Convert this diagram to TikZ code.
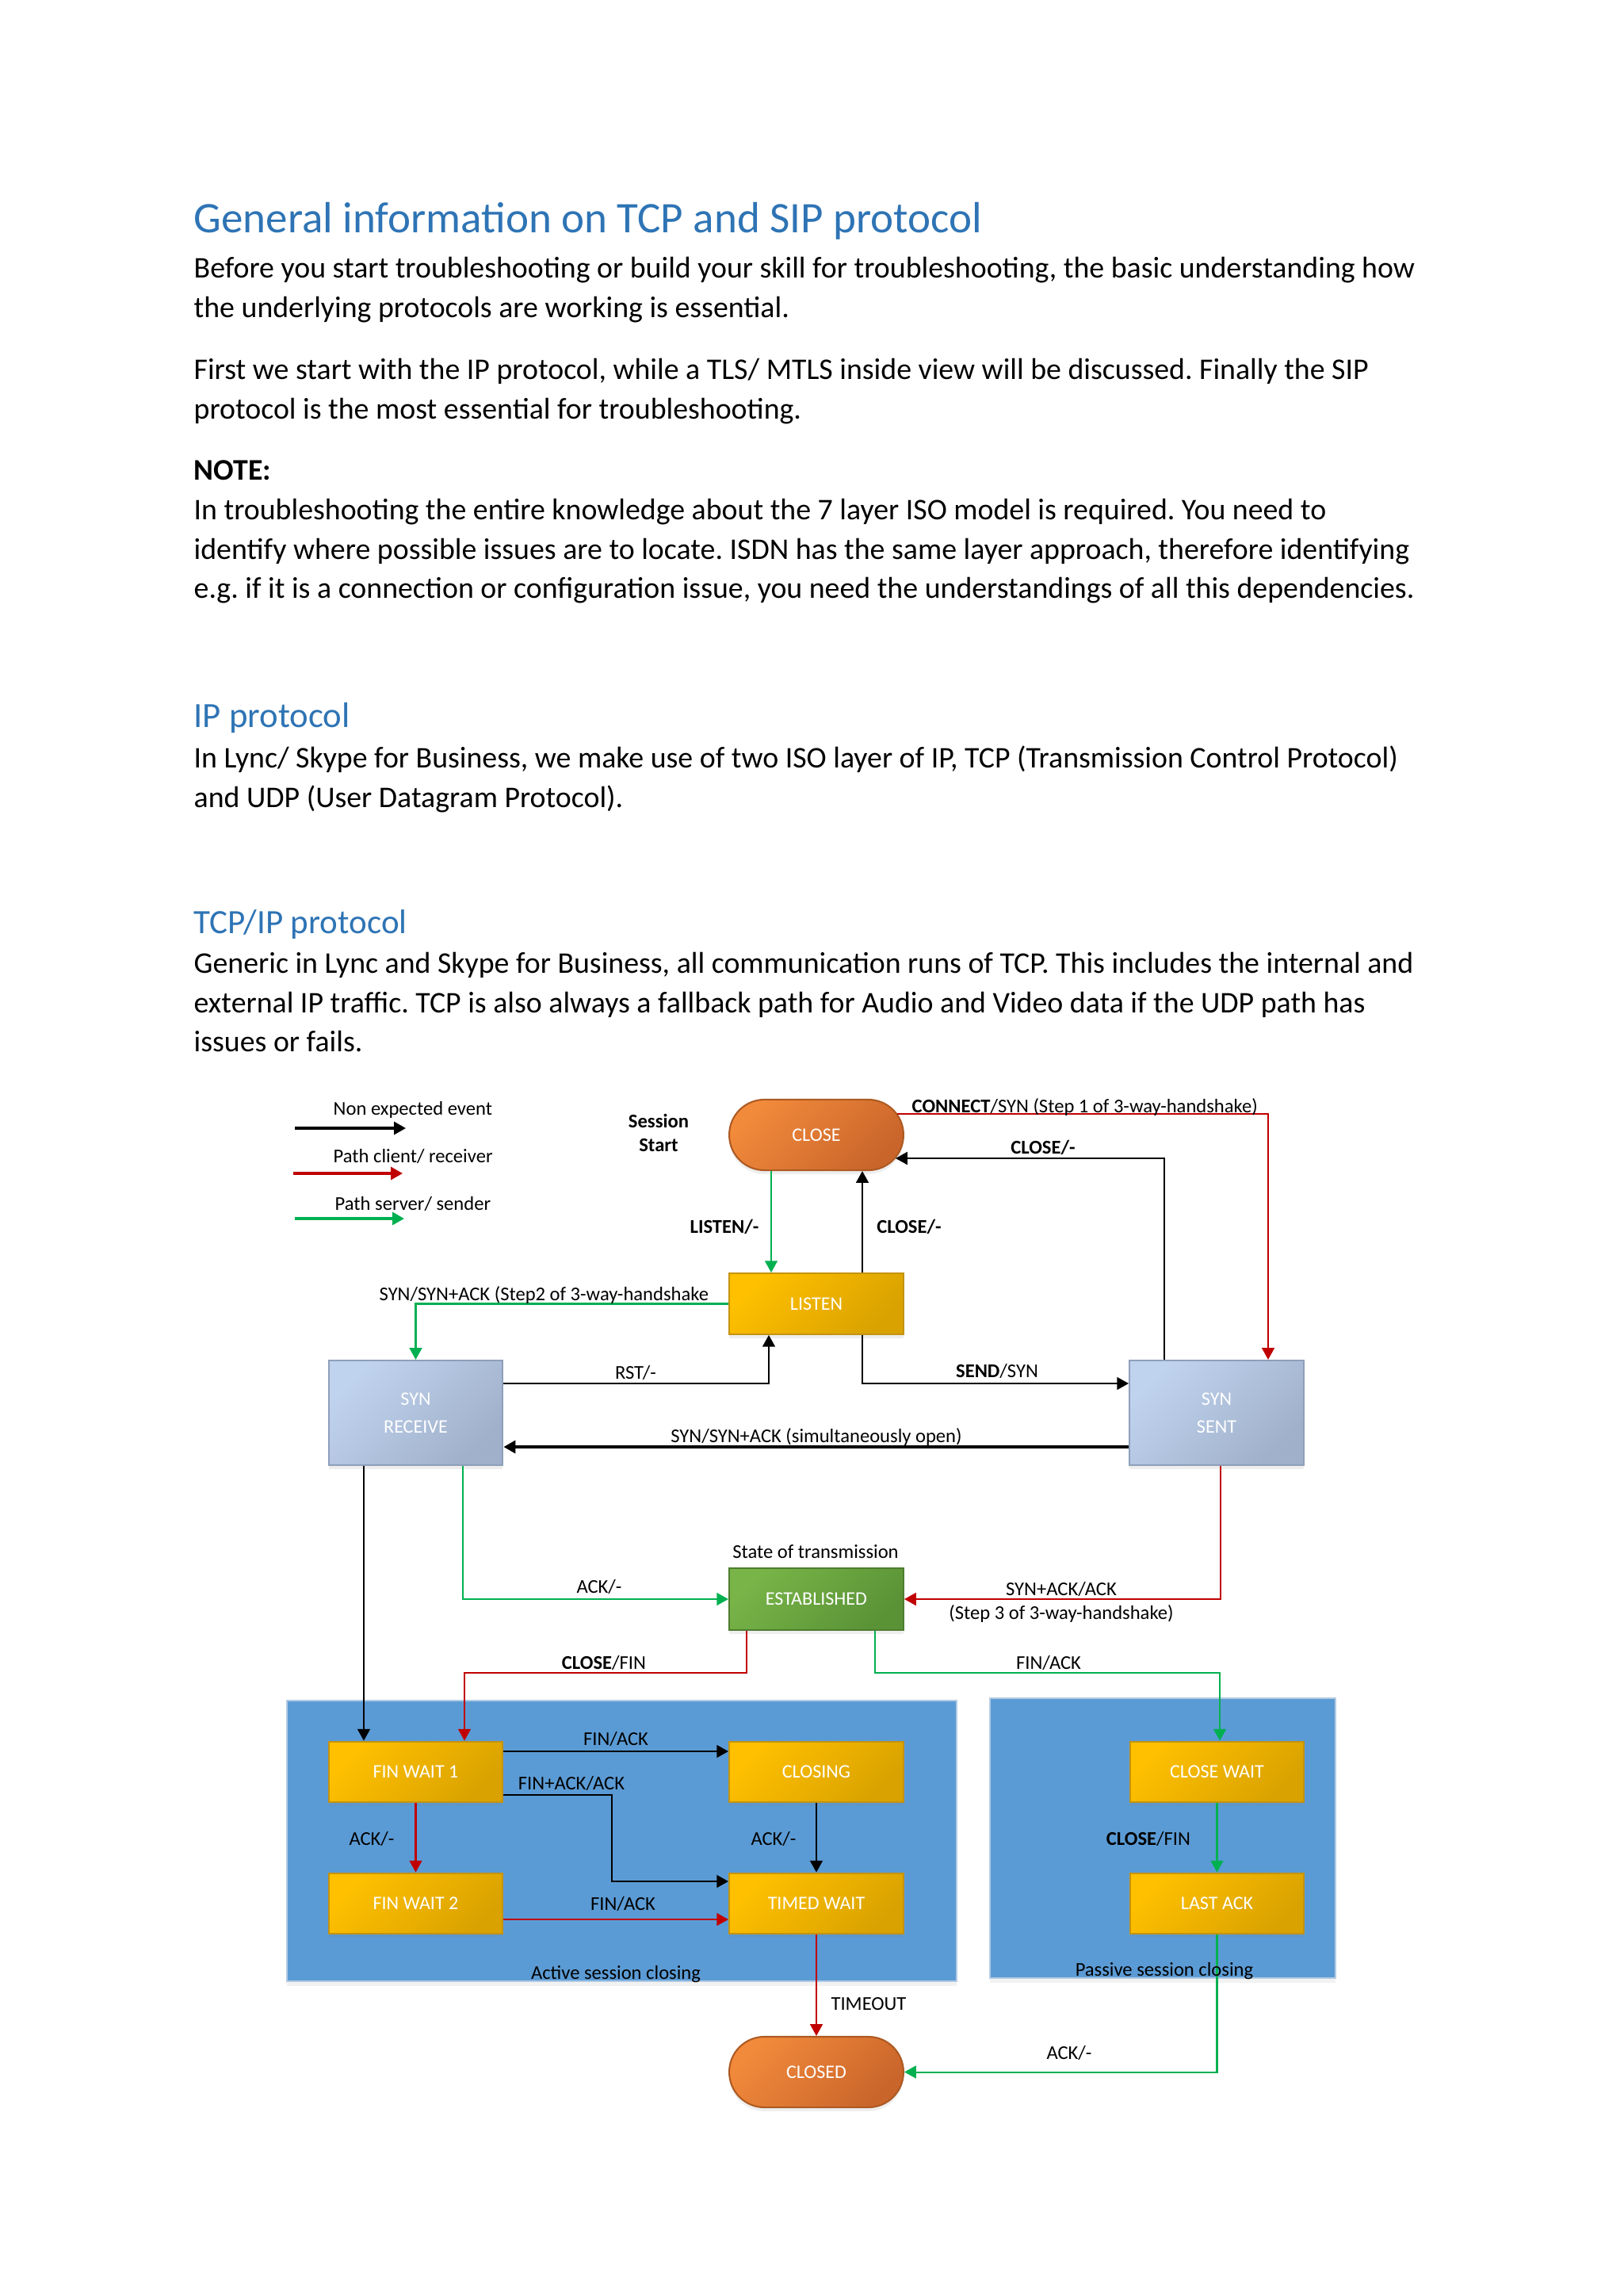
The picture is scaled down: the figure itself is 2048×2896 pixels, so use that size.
\documentclass[tikz,border=0pt]{standalone}
\usepackage{fontspec}
\setmainfont{Carlito}
\usetikzlibrary{arrows.meta,shadows,calc}
\frenchspacing
\definecolor{hblue}{HTML}{2E74B5}
\definecolor{yelA}{HTML}{FFC000}
\definecolor{yelB}{HTML}{D9A200}
\definecolor{yelD}{HTML}{C49310}
\definecolor{orgA}{HTML}{F28A3B}
\definecolor{orgB}{HTML}{C9652B}
\definecolor{orgD}{HTML}{AD5A22}
\definecolor{bluA}{HTML}{C0D3EE}
\definecolor{bluB}{HTML}{A0B0CA}
\definecolor{bluD}{HTML}{8E9FBA}
\definecolor{grnA}{HTML}{78B448}
\definecolor{grnB}{HTML}{5A9336}
\definecolor{grnD}{HTML}{4E7D2F}
\definecolor{contF}{HTML}{5B9BD5}
\definecolor{contD}{HTML}{B3CBE3}
\definecolor{lred}{HTML}{C00000}
\definecolor{lgrn}{HTML}{00B050}
\begin{document}
\begin{tikzpicture}[x=0.29067pt,y=-0.29067pt,
  tx/.style={inner sep=0pt, anchor=base west, font=\fontsize{11}{13}\selectfont},
  hd/.style={inner sep=0pt, anchor=base west, text=hblue},
  lbl/.style={inner sep=0pt, anchor=base, font=\fontsize{7.15}{8}\selectfont},
  lblw/.style={inner sep=0pt, anchor=base west, font=\fontsize{7.15}{8}\selectfont},
  state/.style={minimum width=63.9pt, inner sep=0pt, text=white, align=center,
    font=\fontsize{7}{8.7}\selectfont, line width=0.6pt,
    drop shadow={opacity=0.13, shadow xshift=0pt, shadow yshift=-1.4pt}},
  ybox/.style={state, minimum height=22.3pt, draw=yelD, top color=yelA, bottom color=yelB, shading angle=45},
  obox/.style={state, minimum height=25.9pt, rounded corners=12.9pt, draw=orgD, top color=orgA, bottom color=orgB, shading angle=45},
  bbox/.style={state, minimum height=38.4pt, draw=bluD, top color=bluA, bottom color=bluB, shading angle=45},
  gbox/.style={state, minimum height=22.7pt, draw=grnD, top color=grnA, bottom color=grnB, shading angle=45},
  cont/.style={fill=contF, draw=contD, line width=0.6pt,
    drop shadow={opacity=0.10, shadow xshift=0pt, shadow yshift=-1.6pt}},
  tip/.style={-{Triangle[length=4.3pt,width=4.6pt]}},
  bl/.style={tip, draw=black, line width=0.65pt},
  rl/.style={tip, draw=lred, line width=0.6pt, -{Triangle[length=4.3pt,width=4.6pt,fill=lred]}},
  gl/.style={tip, draw=lgrn, line width=0.6pt, -{Triangle[length=4.3pt,width=4.6pt,fill=lgrn]}},
]
\path[use as bounding box, fill=white] (0,0) rectangle (2048,2896);

% ---------------- text ----------------
\node[hd, font=\fontsize{16}{19}\selectfont] (title) at (244,293) {General information on TCP and SIP protocol};
\node[tx] (p1a) at (244,350) {Before you start troubleshooting or build your skill for troubleshooting, the basic understanding how};
\node[tx] (p1b) at (244,400) {the underlying protocols are working is essential.};
\node[tx] (p2a) at (244,478) {First we start with the IP protocol, while a TLS/ MTLS inside view will be discussed. Finally the SIP};
\node[tx] (p2b) at (244,528) {protocol is the most essential for troubleshooting.};
\node[tx, font=\fontsize{11}{13}\selectfont\bfseries] (note) at (244,605) {NOTE:};
\node[tx] (p3a) at (244,655) {In troubleshooting the entire knowledge about the 7 layer ISO model is required. You need to};
\node[tx] (p3b) at (244,705) {identify where possible issues are to locate. ISDN has the same layer approach, therefore identifying};
\node[tx] (p3c) at (244,754) {e.g. if it is a connection or configuration issue, you need the understandings of all this dependencies.};
\node[hd, font=\fontsize{13}{16}\selectfont] (h2a) at (244,917) {IP protocol};
\node[tx] (p4a) at (244,968) {In Lync/ Skype for Business, we make use of two ISO layer of IP, TCP (Transmission Control Protocol)};
\node[tx] (p4b) at (244,1018) {and UDP (User Datagram Protocol).};
\node[hd, font=\fontsize{12.5}{16}\selectfont] (h2b) at (244,1177) {TCP/IP protocol};
\node[tx] (p5a) at (244,1227) {Generic in Lync and Skype for Business, all communication runs of TCP. This includes the internal and};
\node[tx] (p5b) at (244,1277) {external IP traffic. TCP is also always a fallback path for Audio and Video data if the UDP path has};
\node[tx] (p5c) at (244,1326) {issues or fails.};

% ---------------- containers ----------------
\path[cont] (362,2145) rectangle (1207,2499);
\path[cont] (1249,2142) rectangle (1685,2495);

% ---------------- states ----------------
\node[obox] (close) at (1030,1431.5) {CLOSE};
\node[ybox] (listen) at (1030,1644.5) {LISTEN};
\node[bbox] (synr) at (524.5,1782) {SYN\\[1.6pt]RECEIVE};
\node[bbox] (synsent) at (1535,1782) {SYN\\[1.6pt]SENT};
\node[gbox] (est) at (1030,2017) {ESTABLISHED};
\node[ybox] (fw1) at (524.5,2235) {FIN WAIT 1};
\node[ybox] (closing) at (1030,2235) {CLOSING};
\node[ybox] (fw2) at (524.5,2401) {FIN WAIT 2};
\node[ybox] (tw) at (1030,2401) {TIMED WAIT};
\node[ybox] (cw) at (1535.5,2235) {CLOSE WAIT};
\node[ybox] (la) at (1535.5,2401) {LAST ACK};
\node[obox] (closed) at (1030,2613.5) {CLOSED};

% ---------------- helper coordinates ----------------
\coordinate (xa) at (973,0);
\coordinate (xb) at (1088,0);
\coordinate (xd) at (970,0);
\coordinate (xf) at (1600,0);
\coordinate (xg) at (1469,0);
\coordinate (xh) at (459,0);
\coordinate (xi) at (584,0);
\coordinate (xk) at (942,0);
\coordinate (xl) at (586,0);
\coordinate (xm) at (1104,0);
\coordinate (xn) at (772,0);
\coordinate (xr) at (1540,0);
\coordinate (xs) at (1539,0);
\coordinate (yconn) at (0,1405);
\coordinate (ycl) at (0,1461);
\coordinate (yrs) at (0,1745);
\coordinate (ysim) at (0,1825);
\coordinate (yfin) at (0,2110);
\coordinate (ya) at (0,2209);
\coordinate (yb) at (0,2264);
\coordinate (yc) at (0,2373);
\coordinate (yd) at (0,2421);

% ---------------- connectors ----------------
\draw[gl] (close.south -| xa) -- (listen.north -| xa);
\draw[bl] (listen.north -| xb) -- (close.south -| xb);
\draw[rl] ($(close.east |- yconn)+(-9,0)$) -| (synsent.north -| xf);
\draw[bl] (synsent.north -| xg) |- ($(close.east |- ycl)+(-11,0)$);
\draw[gl] (listen.west) -| (synr.north);
\draw[bl] (synr.east |- yrs) -| (listen.south -| xd);
\draw[bl] (listen.south -| xb) |- (synsent.west |- yrs);
\draw[bl, line width=1pt] (synsent.west |- ysim) -- (synr.east |- ysim);
\draw[bl] (synr.south -| xh) -- (fw1.north -| xh);
\draw[gl] (synr.south -| xi) |- (est.west);
\draw[rl] (synsent.south -| xr) |- (est.east);
\draw[rl] (est.south -| xk) |- (xl |- yfin) -- (fw1.north -| xl);
\draw[gl] (est.south -| xm) |- (xs |- yfin) -- (cw.north -| xs);
\draw[bl] (fw1.east |- ya) -- (closing.west |- ya);
\draw[bl] (fw1.east |- yb) -| (xn |- yc) -- (tw.west |- yc);
\draw[rl] (fw1.south) -- (fw2.north);
\draw[bl] (closing.south) -- (tw.north);
\draw[rl] (fw2.east |- yd) -- (tw.west |- yd);
\draw[rl] (tw.south) -- (closed.north);
\draw[gl] (cw.south) -- (la.north);
\draw[gl] (la.south) |- (closed.east);

% ---------------- legend ----------------
\coordinate (l1a) at (372,1423); \coordinate (l1b) at (512,1423);
\coordinate (l2a) at (370,1480); \coordinate (l2b) at (508,1480);
\coordinate (l3a) at (372,1537); \coordinate (l3b) at (510,1537);
\draw[bl, line width=0.9pt] (l1a) -- (l1b);
\draw[rl, line width=0.9pt] (l2a) -- (l2b);
\draw[gl, line width=0.9pt] (l3a) -- (l3b);
\node[lblw] (lg1) at (420,1406) {Non expected event};
\node[lblw] (lg2) at (420,1466) {Path client/ receiver};
\node[lblw] (lg3) at (422,1526) {Path server/ sender};

% ---------------- labels ----------------
\node[lbl, font=\fontsize{7.15}{8}\selectfont\bfseries] (ss1) at (831,1422) {Session};
\node[lbl, font=\fontsize{7.15}{8}\selectfont\bfseries] (ss2) at (831,1452) {Start};
\node[lblw] (t1) at (1150,1403) {\textbf{CONNECT}/SYN (Step 1 of 3-way-handshake)};
\node[lbl] (t2) at (1316,1455) {\textbf{CLOSE/-}};
\node[lbl] (t3) at (914,1555) {\textbf{LISTEN/-}};
\node[lbl] (t4) at (1147,1555) {\textbf{CLOSE/-}};
\node[lblw] (t5) at (478,1640) {SYN/SYN+ACK (Step2 of 3-way-handshake};
\node[lbl] (t6) at (802,1739) {RST/-};
\node[lbl] (t7) at (1258,1737) {\textbf{SEND}/SYN};
\node[lbl] (t8) at (1030,1819) {SYN/SYN+ACK (simultaneously open)};
\node[lbl] (t9) at (1029,1965) {State of transmission};
\node[lbl] (t10) at (756,2009) {ACK/-};
\node[lbl] (t11) at (1339,2012) {SYN+ACK/ACK};
\node[lbl] (t12) at (1339,2042) {(Step 3 of 3-way-handshake)};
\node[lbl] (t13) at (762,2105) {\textbf{CLOSE}/FIN};
\node[lbl] (t14) at (1323,2105) {FIN/ACK};
\node[lbl] (t15) at (777,2201) {FIN/ACK};
\node[lbl] (t16) at (721,2257) {FIN+ACK/ACK};
\node[lbl] (t17) at (469,2327) {ACK/-};
\node[lbl] (t18) at (976,2327) {ACK/-};
\node[lbl] (t19) at (1449,2327) {\textbf{CLOSE}/FIN};
\node[lbl] (t20) at (786,2409) {FIN/ACK};
\node[lbl] (t21) at (777,2496) {Active session closing};
\node[lbl] (t22) at (1469,2492) {Passive session closing};
\node[lbl] (t23) at (1096,2535) {TIMEOUT};
\node[lbl] (t24) at (1349,2597) {ACK/-};
\end{tikzpicture}
\end{document}
